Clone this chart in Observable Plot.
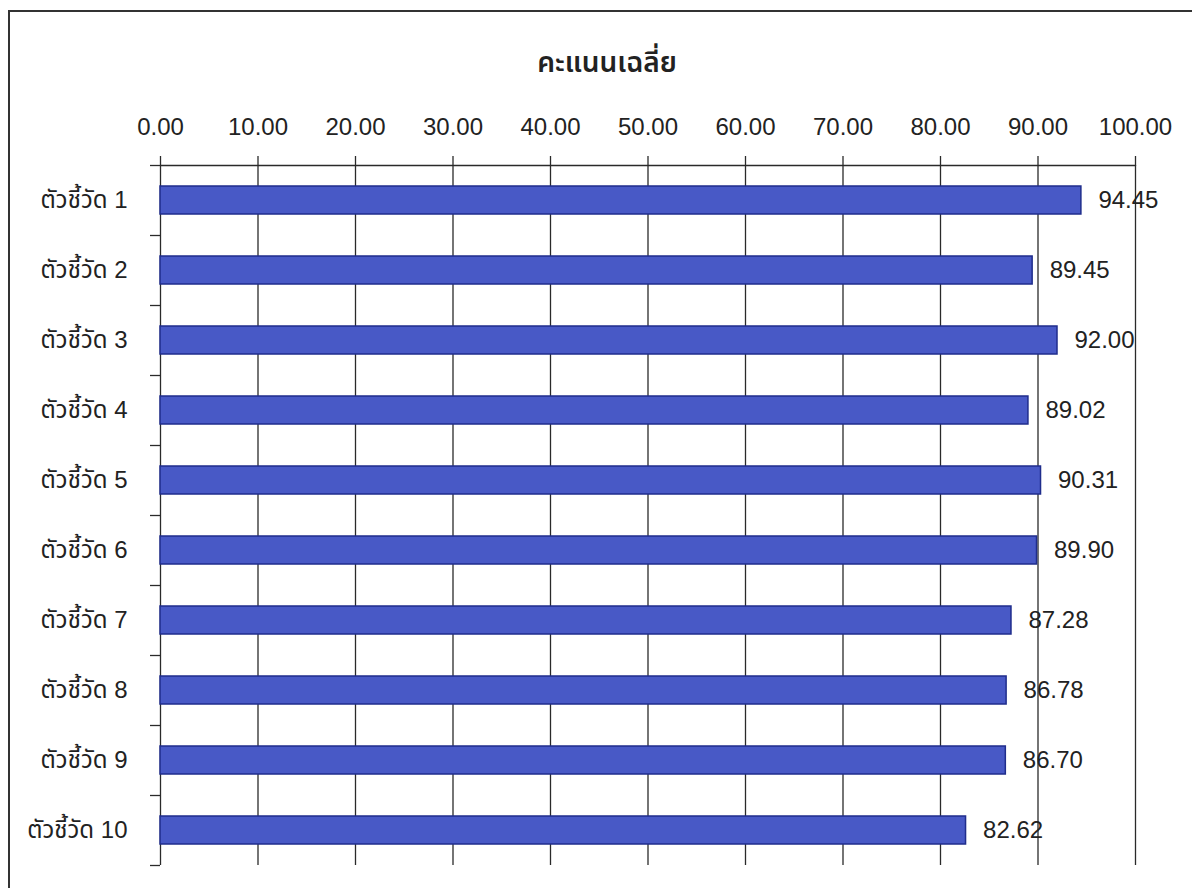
<!DOCTYPE html>
<html>
<head>
<meta charset="utf-8">
<script src="https://cdn.jsdelivr.net/npm/d3@7"></script>
<script src="https://cdn.jsdelivr.net/npm/@observablehq/plot@0.6"></script>
<style>
  html, body { margin: 0; padding: 0; background: #fff; overflow: hidden; width: 1192px; height: 888px; }
  #frame { position: absolute; left: 8px; top: 10px; width: 1400px; height: 1200px; border-left: 2px solid #333; border-top: 2px solid #333; box-sizing: border-box; pointer-events: none; }
  #title { position: absolute; left: 0; top: 44px; width: 1214px; text-align: center; font-size: 28px; line-height: 40px; font-weight: 600; color: #222; font-family: "Noto Sans Thai", "Noto Sans Thai UI", "Noto Sans", sans-serif; }
  #chart { position: absolute; left: 0; top: 90px; }
</style>
</head>
<body>
<div id="frame"></div>
<div id="title"></div>
<div id="chart"></div>
<script>
const title = "คะแนนเฉลี่ย";
const categories = ["ตัวชี้วัด 1", "ตัวชี้วัด 2", "ตัวชี้วัด 3", "ตัวชี้วัด 4", "ตัวชี้วัด 5",
                    "ตัวชี้วัด 6", "ตัวชี้วัด 7", "ตัวชี้วัด 8", "ตัวชี้วัด 9", "ตัวชี้วัด 10"];
const scores = [94.45, 89.45, 92.00, 89.02, 90.31, 89.90, 87.28, 86.78, 86.70, 82.62];
const xTicks = [0, 10, 20, 30, 40, 50, 60, 70, 80, 90, 100];

const FONT = '"Liberation Sans", "Noto Sans Thai", "Noto Sans Thai UI", "Noto Sans", sans-serif';
const fmt = d3.format(".2f");

document.getElementById("title").textContent = title;

const bandEdges = d3.range(categories.length + 1);
const bandCenters = categories.map((_, i) => i + 0.5);

const chart = Plot.plot({
  width: 1192,
  height: 798,
  marginTop: 75,
  marginBottom: 23,
  marginLeft: 160,
  marginRight: 57,
  style: { background: "transparent", fontFamily: FONT, fontSize: "24px", color: "#222" },
  x: { domain: [0, 100] },
  y: { domain: [0, categories.length], reverse: true },
  marks: [
    Plot.ruleX(xTicks, { stroke: "#2a2a2a", strokeWidth: 1.3 }),
    Plot.ruleY([0], { stroke: "#2a2a2a", strokeWidth: 1.3 }),
    Plot.axisX(xTicks, { anchor: "top", tickSize: 10, tickPadding: 21, tickFormat: fmt, fontSize: 24, stroke: "#2a2a2a", strokeWidth: 1.3, fill: "#222", label: null }),
    Plot.axisY(bandEdges, { anchor: "left", tickSize: 10, tickFormat: () => "", stroke: "#2a2a2a", strokeWidth: 1.3, label: null }),
    Plot.axisY(bandCenters, { anchor: "left", tickSize: 0, tickPadding: 33, tickFormat: t => categories[Math.floor(t)], fontSize: 24, fill: "#222", label: null }),
    Plot.rect(scores, {
      x1: 0, x2: d => d,
      y1: (d, i) => i + 0.3, y2: (d, i) => i + 0.7,
      fill: "#4859c6", stroke: "#1f2d8c", strokeWidth: 1.5
    }),
    Plot.text(scores, {
      x: d => d, y: (d, i) => i + 0.5, text: d => fmt(d),
      dx: 17, textAnchor: "start", fontSize: 24, fill: "#222"
    })
  ]
});
document.getElementById("chart").appendChild(chart);
</script>
</body>
</html>
